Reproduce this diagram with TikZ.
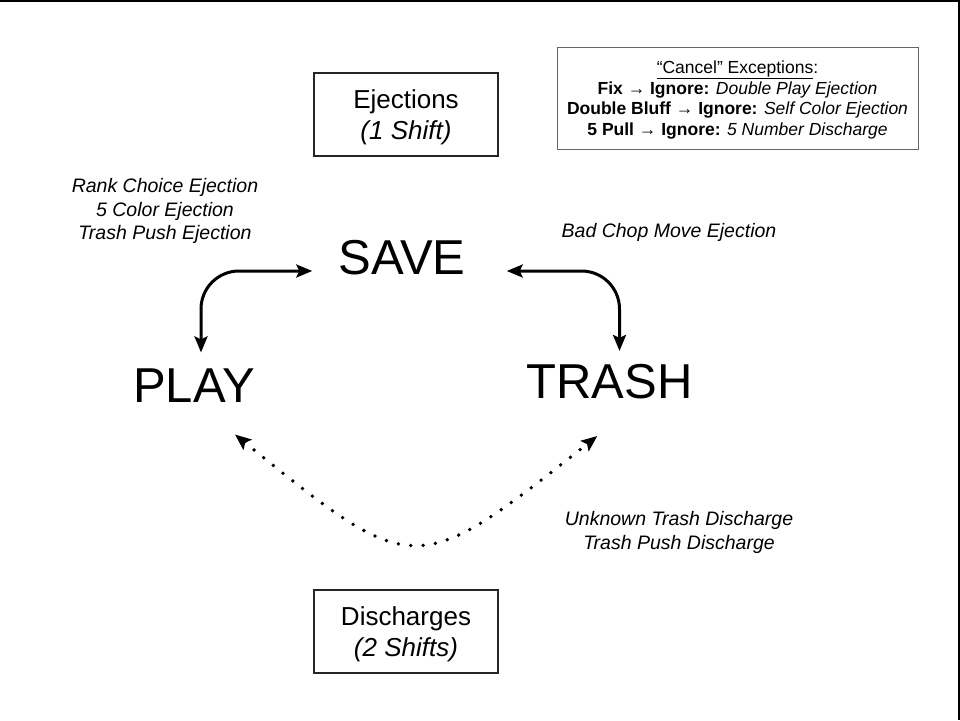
\documentclass[tikz,border=0pt]{standalone}
\usepackage{fontspec}
\setmainfont{Liberation Sans}
\usetikzlibrary{arrows.meta}

\tikzset{
  state/.style={inner sep=0pt, font=\fontsize{49}{56}\selectfont},
  shiftbox/.style={align=center, font=\fontsize{26}{31.5}\selectfont},
  note/.style={align=center, font=\fontsize{19.5}{23.5}\selectfont\itshape},
  move/.style={line width=3pt, rounded corners=38pt, {Stealth[length=16pt,width=13pt,inset=3pt]}-{Stealth[length=16pt,width=13pt,inset=3pt]}},
  discharge/.style={line width=3.8pt, line cap=round, dash pattern=on 0pt off 12.4pt, {Stealth[length=16pt,width=13pt,inset=3pt]}-{Stealth[length=16pt,width=13pt,inset=3pt]}}
}

\begin{document}
\begin{tikzpicture}[x=1pt,y=-1pt]

    \useasboundingbox (0,0) rectangle (960,720);
    \draw [line width=2pt] (0,1) -- (959,1) -- (959,720);

    % the three states
    \node [state] (save)  at (402,258)   {SAVE};
    \node [state] (play)  at (194,385.5) {PLAY};
    \node [state] (trash) at (609.5,381.5) {TRASH};

    % boxes
    \draw [draw=black!85, line width=1.4pt] (314,73) rectangle (498,156);
    \node [shiftbox] (eject) at (406,117.5) {Ejections\\\textit{(1 Shift)}};
    \draw [draw=black!85, line width=1.4pt] (314,590) rectangle (498,673);
    \node [shiftbox] (disch) at (406,634.5) {Discharges\\\textit{(2 Shifts)}};
    \draw [draw=black!60, line width=1pt] (557,47) rectangle (918,149);
    \node [align=center, font=\fontsize{17.5}{20.8}\selectfont] (cancel) at (737.5,100)
          {\underline{“Cancel” Exceptions}:\\
           \textbf{Fix → Ignore:} \textit{Double Play Ejection}\\
           \textbf{Double Bluff → Ignore:} \textit{Self Color Ejection}\\
           \textbf{5 Pull → Ignore:} \textit{5 Number Discharge}};

    % labels
    \node [note] (ejleft)  at (165,211) {Rank Choice Ejection\\5 Color Ejection\\Trash Push Ejection};
    \node [note] (ejright) at (669,232) {Bad Chop Move Ejection};
    \node [note, font=\fontsize{19.5}{24}\selectfont\itshape] (dsright) at (679,532) {Unknown Trash Discharge\\Trash Push Discharge};

    % connectors
    \draw [move] ([xshift=-26pt,yshift=-13pt]save.west) -| ([xshift=7pt,yshift=16pt]play.north);
    \draw [move] ([xshift=41pt,yshift=-13pt]save.east) -| ([xshift=10pt,yshift=13pt]trash.north);
    \draw [discharge] ([xshift=-20pt,yshift=-32pt]play.south east) .. controls (415,580) .. ([xshift=71pt,yshift=-37pt]trash.south west);

\end{tikzpicture}
\end{document}
